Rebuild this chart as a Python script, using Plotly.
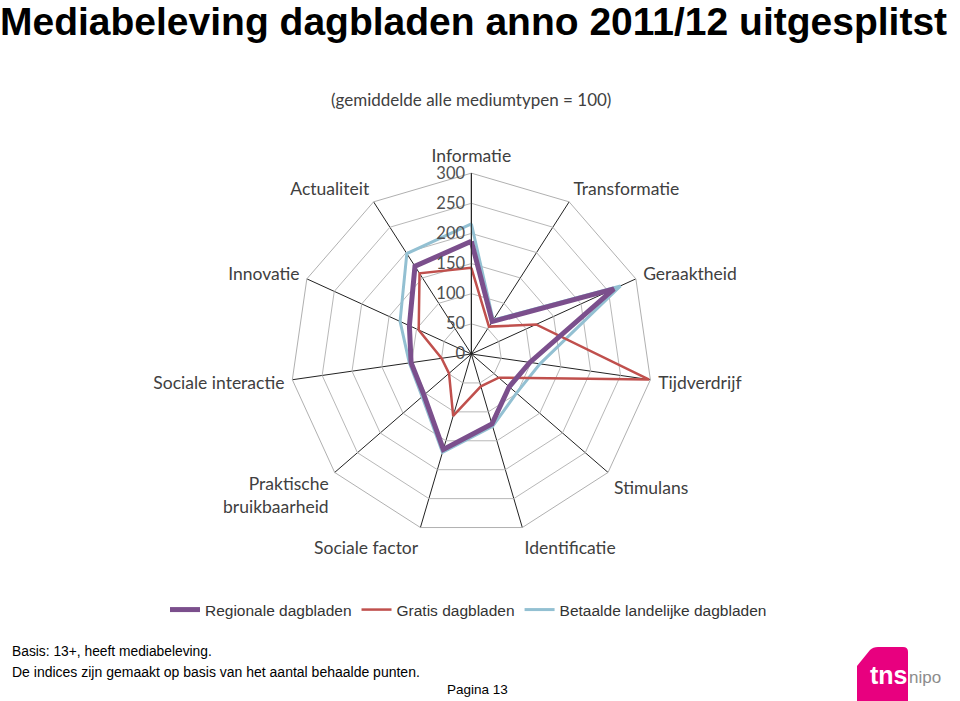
import plotly.graph_objects as go

categories = ["Informatie", "Transformatie", "Geraaktheid", "Tijdverdrijf", "Stimulans",
              "Identificatie", "Sociale factor", "Praktische<br>bruikbaarheid",
              "Sociale interactie", "Innovatie", "Actualiteit"]
regionale = [187, 64, 260, 98, 83, 121, 165, 104, 101, 113, 173]
gratis = [143, 54, 118, 298, 60, 56, 107, 49, 50, 96, 159]
betaalde = [216, 67, 272, 115, 99, 125, 170, 108, 104, 130, 198]
radial_ticks = [0, 50, 100, 150, 200, 250, 300]

series = [
    ("Regionale dagbladen", regionale, "#7b4f8c", 5),
    ("Gratis dagbladen", gratis, "#c0504d", 2.5),
    ("Betaalde landelijke dagbladen", betaalde, "#93c0d2", 3),
]

fig = go.Figure()
for name, vals, col, w in [series[2], series[1], series[0]]:
    fig.add_trace(go.Scatterpolar(
        r=vals + vals[:1], theta=categories + categories[:1],
        mode="lines", name=name, line=dict(color=col, width=w),
        hoverinfo="skip"))

fig.update_layout(
    width=960, height=701,
    margin=dict(l=0, r=0, t=0, b=0),
    paper_bgcolor="white", plot_bgcolor="white",
    showlegend=True,
    legend=dict(orientation="h", x=0.488, xanchor="center", y=1-610/701, yanchor="middle",
                font=dict(family="Liberation Sans, Arial", size=15.5, color="#333333"),
                traceorder="reversed", itemwidth=30),
    polar=dict(
        domain=dict(x=[0.3025, 0.6795], y=[0.237, 0.753]),
        bgcolor="white",
        gridshape="linear",
        angularaxis=dict(
            direction="clockwise", rotation=90,
            categoryorder="array", categoryarray=categories,
            gridcolor="#222222", gridwidth=1,
            linecolor="#b0b0b0", linewidth=1,
            showline=True, ticks="outside", ticklen=4, tickcolor="rgba(0,0,0,0)",
            tickfont=dict(family="Lato, Open Sans", size=17.5, color="#404040"),
        ),
        radialaxis=dict(
            range=[0, 300], tickvals=radial_ticks, angle=90, tickangle=90,
            showline=True, linecolor="#222222", linewidth=1,
            gridcolor="#b8b8b8", gridwidth=1, ticks="",
            tickfont=dict(family="Lato, Open Sans", size=16.5, color="#505050"),
            side="counterclockwise",
        ),
    ),
)
try:
    fig.update_polars(radialaxis_ticklabelstandoff=12)
except Exception:
    pass

fig.add_annotation(text="<b>Mediabeleving dagbladen anno 2011/12 uitgesplitst</b>",
                   x=0, y=1.0, xref="paper", yref="paper", xanchor="left", yanchor="top",
                   showarrow=False, font=dict(family="Liberation Sans, Arial", size=39, color="black"),
                   xshift=-2, yshift=2)
fig.add_annotation(text="(gemiddelde alle mediumtypen = 100)", x=471/960, y=1-100/701,
                   xref="paper", yref="paper", yanchor="middle", showarrow=False,
                   font=dict(family="Lato, Open Sans", size=17, color="#404040"))
fig.add_annotation(text="Basis: 13+, heeft mediabeleving.", x=10/960, y=1-651/701,
                   xref="paper", yref="paper", xanchor="left", yanchor="middle", showarrow=False,
                   font=dict(family="Liberation Sans, Arial", size=13.8, color="black"))
fig.add_annotation(text="De indices zijn gemaakt op basis van het aantal behaalde punten.",
                   x=10/960, y=1-672/701, xref="paper", yref="paper", xanchor="left", yanchor="middle",
                   showarrow=False, font=dict(family="Liberation Sans, Arial", size=14, color="black"))
fig.add_annotation(text="Pagina 13", x=477/960, y=1-689/701, xref="paper", yref="paper",
                   yanchor="middle", showarrow=False,
                   font=dict(family="Liberation Sans, Arial", size=13.5, color="black"))

# tns nipo logo
X = lambda v: v / 960
Y = lambda v: 1 - v / 701
fig.add_shape(type="path", xref="paper", yref="paper",
              path=("M {},{} L {},{} Q {},{} {},{} L {},{} Q {},{} {},{} L {},{} L {},{} L {},{} Q {},{} {},{} Z").format(
                  X(857), Y(666),
                  X(870), Y(650), X(873), Y(647), X(878), Y(647),
                  X(903), Y(647), X(908), Y(647), X(908), Y(652),
                  X(908), Y(701),
                  X(857), Y(701),
                  X(857), Y(672), X(857), Y(668), X(857), Y(666)),
              fillcolor="#e8007f", line=dict(width=0))
fig.add_annotation(text="<b>tns</b>", x=X(889), y=Y(675), xref="paper", yref="paper",
                   xanchor="center", yanchor="middle",
                   showarrow=False, font=dict(family="Liberation Sans, Arial", size=25, color="white"))
fig.add_annotation(text="nipo", x=X(925), y=Y(677), xref="paper", yref="paper",
                   xanchor="center", yanchor="middle",
                   showarrow=False, font=dict(family="Liberation Sans Narrow, Liberation Sans", size=17, color="#8c8c8c"))

fig.write_html("out.html")
